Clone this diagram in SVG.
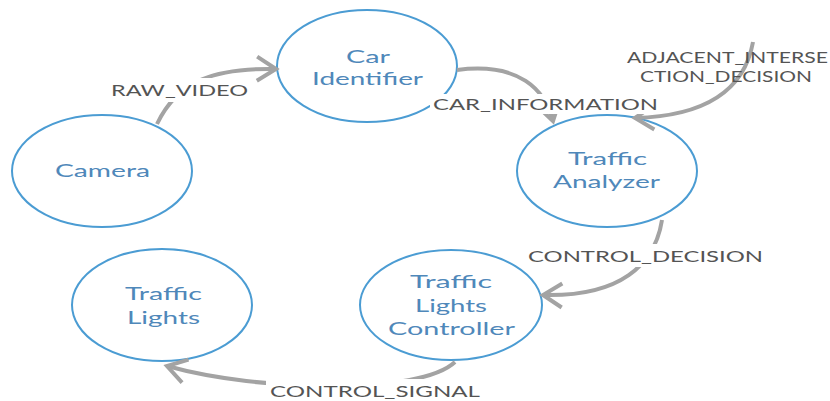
<svg xmlns="http://www.w3.org/2000/svg" width="830" height="401" viewBox="0 0 830 401">
<style>
.node ellipse{fill:#fff;stroke:#4b9cd3;stroke-width:2}
.nt{font-family:Lato,"Open Sans",sans-serif;font-size:18px;fill:#4f88ba}
.edge{fill:none;stroke:#a3a3a3;stroke-width:4;marker-end:url(#arr)}
.lt{font-family:Lato,"Open Sans",sans-serif;font-size:16px;fill:#545454}
.bg{fill:#fff}
</style>
<defs>
<marker id="arr" markerUnits="userSpaceOnUse" viewBox="-26 -16 30 32" markerWidth="30" markerHeight="32" refX="0" refY="0" orient="auto">
<path d="M-19,-12 L0,0 L-19,12" fill="none" stroke="#a3a3a3" stroke-width="4"/>
</marker>
</defs>
<rect width="830" height="401" fill="#fff"/>
<g id="nodes">
<g id="camera" class="node"><ellipse cx="102" cy="171" rx="90" ry="56"/><text class="nt" x="55" y="177" textLength="95" lengthAdjust="spacingAndGlyphs">Camera</text></g>
<g id="car-identifier" class="node"><ellipse cx="367" cy="66" rx="90" ry="56"/><text class="nt" x="346" y="63" textLength="44" lengthAdjust="spacingAndGlyphs">Car</text><text class="nt" x="312" y="85" textLength="111" lengthAdjust="spacingAndGlyphs">Identifier</text></g>
<g id="traffic-analyzer" class="node"><ellipse cx="607" cy="171" rx="90" ry="56"/><text class="nt" x="568" y="165" textLength="79" lengthAdjust="spacingAndGlyphs">Traffic</text><text class="nt" x="553" y="188" textLength="107" lengthAdjust="spacingAndGlyphs">Analyzer</text></g>
<g id="traffic-lights" class="node"><ellipse cx="162" cy="305" rx="90" ry="56"/><text class="nt" x="125" y="300" textLength="77" lengthAdjust="spacingAndGlyphs">Traffic</text><text class="nt" x="127" y="324" textLength="73" lengthAdjust="spacingAndGlyphs">Lights</text></g>
<g id="traffic-lights-controller" class="node"><ellipse cx="451" cy="305" rx="91" ry="55"/><text class="nt" x="410" y="288" textLength="82" lengthAdjust="spacingAndGlyphs">Traffic</text><text class="nt" x="415" y="312" textLength="72" lengthAdjust="spacingAndGlyphs">Lights</text><text class="nt" x="388" y="335" textLength="127" lengthAdjust="spacingAndGlyphs">Controller</text></g>
</g>
<g id="connectors">
<path class="edge" d="M157,124 C178,80 215,68 276,69"/>
<path class="edge" d="M457,70 C520,62 545,90 553,121"/>
<path class="edge" d="M753,42 Q740,115 635,118"/>
<path class="edge" d="M662,220 C655,265 620,297 543,295"/>
<path class="edge" d="M455,362 C420,395 260,392 167,366"/>
</g>
<g id="labels">
<rect class="bg" x="108" y="78" width="144" height="24"/>
<text class="lt" x="111" y="96" textLength="137" lengthAdjust="spacingAndGlyphs">RAW_VIDEO</text>
<rect class="bg" x="430" y="94" width="231" height="20"/>
<text class="lt" x="433" y="110" textLength="225" lengthAdjust="spacingAndGlyphs">CAR_INFORMATION</text>
<text class="lt" x="627" y="63" textLength="201" lengthAdjust="spacingAndGlyphs">ADJACENT_INTERSE</text>
<text class="lt" x="640" y="82" textLength="172" lengthAdjust="spacingAndGlyphs">CTION_DECISION</text>
<rect class="bg" x="525" y="244" width="241" height="23"/>
<text class="lt" x="528" y="262" textLength="235" lengthAdjust="spacingAndGlyphs">CONTROL_DECISION</text>
<rect class="bg" x="266" y="379" width="218" height="22"/>
<text class="lt" x="270" y="397" textLength="210" lengthAdjust="spacingAndGlyphs">CONTROL_SIGNAL</text>
</g>
</svg>
